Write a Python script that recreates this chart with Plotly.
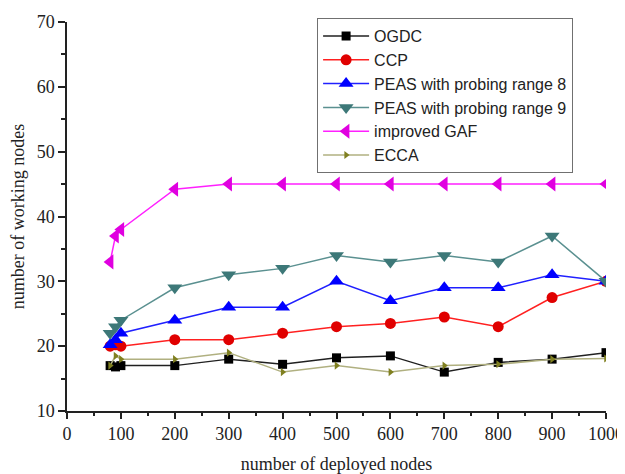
import plotly.graph_objects as go

x_nodes = [80, 90, 100, 200, 300, 400, 500, 600, 700, 800, 900, 1000]
ogdc = [17, 16.8, 17, 17, 18, 17.2, 18.2, 18.5, 16, 17.5, 18, 19]
ccp = [20, 20.2, 20, 21, 21, 22, 23, 23.5, 24.5, 23, 27.5, 30]
peas8 = [20.2, 21, 22, 24, 26, 26, 30, 27, 29, 29, 31, 30]
peas9 = [22, 23, 24, 29, 31, 32, 34, 33, 34, 33, 37, 30]
gaf = [33, 37, 38, 44.2, 45, 45, 45, 45, 45, 45, 45, 45]
ecca = [17, 18.5, 18, 18, 19, 16, 17, 16, 17, 17.2, 18, 18.1]

series = [
    ("OGDC", ogdc, "#202020", "#000000", "square", 9),
    ("CCP", ccp, "#ff2020", "#e00000", "circle", 11),
    ("PEAS with probing range 8", peas8, "#2020ff", "#0000ff", "triangle-up", 13),
    ("PEAS with probing range 9", peas9, "#5a9090", "#3d7878", "triangle-down", 13),
    ("improved GAF", gaf, "#ff20ff", "#e000e0", "triangle-left", 13),
    ("ECCA", ecca, "#b0b080", "#808020", "triangle-right", 7),
]

fig = go.Figure()
for name, ys, lc, mc, sym, sz in series:
    fig.add_trace(go.Scatter(
        x=x_nodes, y=ys, name=name, mode="lines+markers",
        line=dict(color=lc, width=1.5),
        marker=dict(color=mc, symbol=sym, size=sz, line=dict(width=0)),
    ))

serif = "Liberation Serif"
fig.update_layout(
    width=617, height=466,
    margin=dict(l=59, r=19, t=10, b=63),
    plot_bgcolor="white", paper_bgcolor="white",
    showlegend=True,
    legend=dict(
        x=0.464, y=1.01, xanchor="left", yanchor="top",
        bgcolor="white", bordercolor="#707070", borderwidth=1,
        font=dict(family="Liberation Sans", size=16, color="#222"),
        tracegroupgap=0, itemwidth=46,
    ),
    xaxis=dict(
        range=[0, 1000], tickmode="array",
        tickvals=[0, 100, 200, 300, 400, 500, 600, 700, 800, 900, 1000],
        ticks="outside", ticklen=6, tickwidth=1.5, tickcolor="#222",
        showline=True, linecolor="#222", linewidth=1.5, showgrid=False, zeroline=False,
        minor=dict(dtick=50, ticks="outside", ticklen=3, tickwidth=1.5, tickcolor="#222"),
        tickfont=dict(family=serif, size=18, color="#222"),
        automargin=False, ticklabeloverflow="allow",
        title=dict(text="number of deployed nodes", font=dict(family=serif, size=18, color="#222"), standoff=14),
    ),
    yaxis=dict(
        range=[10, 70], tickmode="array", tickvals=[10, 20, 30, 40, 50, 60, 70],
        ticks="outside", ticklen=7, tickwidth=1.5, tickcolor="#222",
        showline=True, linecolor="#222", linewidth=1.5, showgrid=False, zeroline=False,
        minor=dict(dtick=5, ticks="outside", ticklen=4, tickwidth=1.5, tickcolor="#222"),
        tickfont=dict(family=serif, size=18, color="#222"),
        automargin=False, ticklabeloverflow="allow",
        title=dict(text="number of working nodes", font=dict(family=serif, size=18, color="#222"), standoff=8),
    ),
)
fig.write_html("out.html")
